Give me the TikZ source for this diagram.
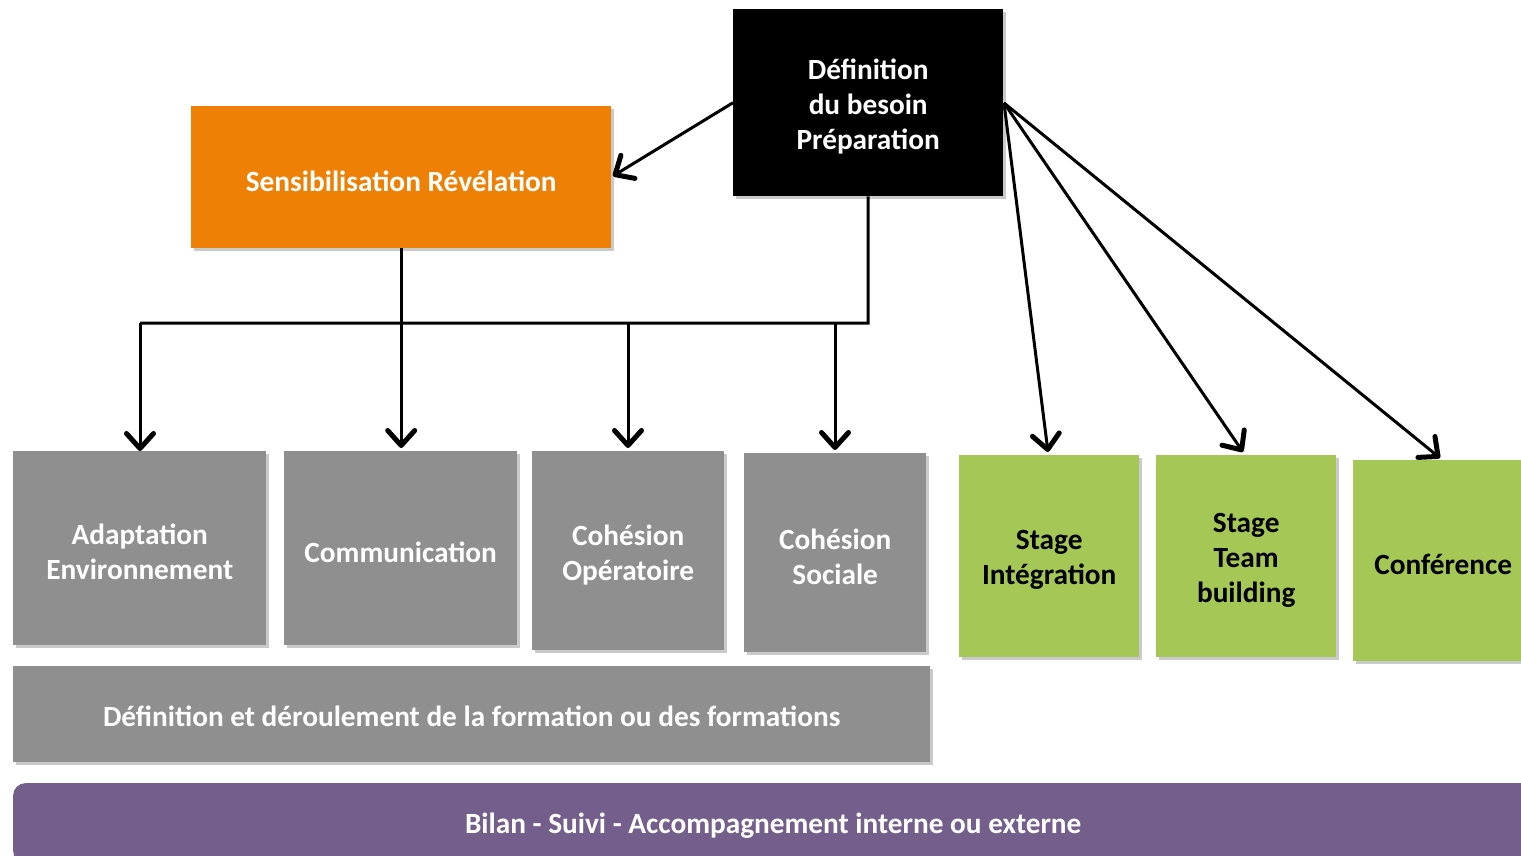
\documentclass[tikz,border=0pt]{standalone}
\usepackage{fontspec}
\setmainfont{Carlito}
\usetikzlibrary{arrows.meta,shadows}
\definecolor{cOrange}{HTML}{EE8105}
\definecolor{cGray}{HTML}{8F8F8F}
\definecolor{cGreen}{HTML}{A5C756}
\definecolor{cPurple}{HTML}{735E8C}
\tikzset{
  box/.style={anchor=north west, inner sep=0pt,
    drop shadow={shadow xshift=3pt, shadow yshift=-3pt, opacity=0.35, fill=black!60}},
  txt/.style={inner sep=0pt, align=center, text=white, yshift=-4pt,
    font=\fontsize{29.3}{35}\selectfont\bfseries},
  link/.style={line width=3pt, -{Straight Barb[length=15pt,width=27pt,line width=5pt,round]}},
  plain/.style={line width=3pt},
}
\begin{document}
\begin{tikzpicture}[x=1pt,y=-1pt]
\useasboundingbox (0,0) rectangle (1521,856);
% top boxes
\node[box, fill=black, minimum width=270pt, minimum height=187pt] (def) at (733,9) {};
\node[txt] (defT) at (def.center) {Définition\\du besoin\\Préparation};
\node[box, fill=cOrange, minimum width=420pt, minimum height=142pt] (sens) at (191,106) {};
\node[txt] (sensT) at (sens.center) {Sensibilisation Révélation};
% gray boxes
\node[box, fill=cGray, minimum width=253pt, minimum height=194pt] (adap) at (13,451) {};
\node[txt] (adapT) at (adap.center) {Adaptation\\Environnement};
\node[box, fill=cGray, minimum width=233pt, minimum height=194pt] (comm) at (284,451) {};
\node[txt] (commT) at (comm.center) {Communication};
\node[box, fill=cGray, minimum width=192pt, minimum height=199pt] (cop) at (532,451) {};
\node[txt] (copT) at (cop.center) {Cohésion\\Opératoire};
\node[box, fill=cGray, minimum width=182pt, minimum height=199pt] (csoc) at (744,453) {};
\node[txt] (csocT) at (csoc.center) {Cohésion\\Sociale};
\node[box, fill=cGray, minimum width=917pt, minimum height=96pt] (form) at (13,666) {};
\node[txt, yshift=2pt] (formT) at (form.center) {Définition et déroulement de la formation ou des formations};
% green boxes
\node[box, fill=cGreen, minimum width=180pt, minimum height=202pt] (stint) at (959,455) {};
\node[txt, text=black] (stintT) at (stint.center) {Stage\\Intégration};
\node[box, fill=cGreen, minimum width=180pt, minimum height=202pt] (stteam) at (1156,455) {};
\node[txt, text=black] (stteamT) at (stteam.center) {Stage\\Team\\building};
\node[box, fill=cGreen, minimum width=180pt, minimum height=201pt] (conf) at (1353,460) {};
\node[txt, text=black] (confT) at (conf.center) {Conférence};
% purple bar
\node[box, fill=cPurple, rounded corners=12pt, minimum width=1520pt, minimum height=80pt, drop shadow={opacity=0}] (bilan) at (13,783) {};
\node[txt, yshift=2pt] (bilanT) at (bilan.center) {Bilan - Suivi - Accompagnement interne ou externe};

% connectors
\coordinate (junc) at (868,323);
\coordinate (jl) at (140,323);
\draw[plain] (def.south) -- (junc) -- (jl);
\draw[link] (jl) -- (jl |- adap.north);
\draw[link] (sens.south) -- ([yshift=3pt]sens.south |- comm.north);
\draw[link] (628,323) -- (628,448);
\draw[link] (835,323) -- (835,450);
\draw[link] (def.west) -- (613,176);
\coordinate (dr) at (1004,103);
\draw[link] (dr) -- (1048,452);
\draw[link] (dr) -- (1243,452);
\draw[link] (dr) -- (1440,458);
\end{tikzpicture}
\end{document}
